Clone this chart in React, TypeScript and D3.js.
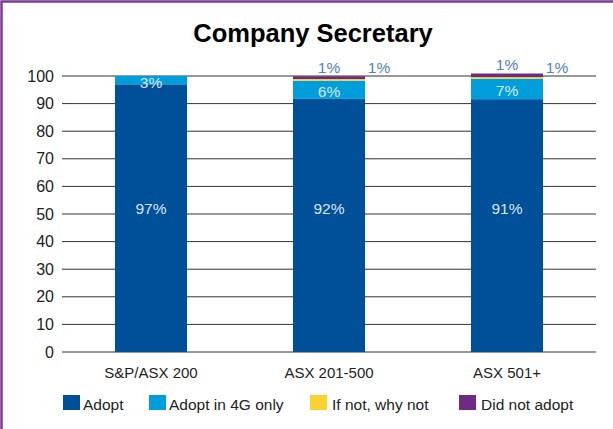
import * as d3 from 'd3';

const W = 613, H = 429;
const M = { top: 76, right: 17, bottom: 77, left: 62 };

const CATEGORIES = ['S&P/ASX 200', 'ASX 201-500', 'ASX 501+'];
const SERIES_NAMES = ['Adopt', 'Adopt in 4G only', 'If not, why not', 'Did not adopt'];
const COLORS = ['#004f99', '#009edb', '#fcd131', '#6e2a84'];

// segment values (the printed labels are rounded differently)
const ADOPT = [97, 91.7, 91.6];
const ADOPT_4G = [3, 6.6, 7.4];
const IF_NOT = [0, 0.6, 0.6];
const DID_NOT = [0, 1.0, 1.3];

const ADOPT_LABELS = ['97%', '92%', '91%'];
const ADOPT_4G_LABELS = ['3%', '6%', '7%'];
const IF_NOT_LABELS = ['', '1%', '1%'];
const DID_NOT_LABELS = ['', '1%', '1%'];

const Y_TICKS = [0, 10, 20, 30, 40, 50, 60, 70, 80, 90, 100];

const FONT = '"Liberation Sans", Arial, sans-serif';

export default function App() {
  const x = d3.scaleBand<string>()
    .domain(CATEGORIES)
    .range([M.left, W - M.right])
    .paddingInner(0.595)
    .paddingOuter(0.2975);
  const y = d3.scaleLinear().domain([0, 100]).range([H - M.bottom, M.top]);

  const rows = CATEGORIES.map((c, i) => ({
    cat: c,
    'Adopt': ADOPT[i],
    'Adopt in 4G only': ADOPT_4G[i],
    'If not, why not': IF_NOT[i],
    'Did not adopt': DID_NOT[i],
  }));
  const stacked = d3.stack<any>().keys(SERIES_NAMES)(rows);

  const bw = x.bandwidth();

  // legend swatch positions
  const legendX = [63, 149, 310, 459];

  return (
    <svg width={W} height={H} viewBox={`0 0 ${W} ${H}`}
      style={{ position: 'absolute', left: 0, top: 0, background: '#fff', fontFamily: FONT }}>
      {/* frame (cropped: only left and top edges visible) */}
      <rect x={1.5} y={1.5} width={W + 20} height={H + 20} fill="none" stroke="#7b3a93" strokeWidth={2.5} />

      <text x={313} y={42} textAnchor="middle" fontSize={25.5} fontWeight="bold" fill="#000">Company Secretary</text>

      {/* grid lines */}
      {Y_TICKS.map(t => (
        <g key={t}>
          <line x1={M.left} x2={W - M.right} y1={y(t)} y2={y(t)} stroke="#333" strokeWidth={1} />
          <text x={54} y={y(t)} dy="0.35em" textAnchor="end" fontSize={16} fill="#222">{t}</text>
        </g>
      ))}

      {/* bars */}
      {stacked.map((s, si) => s.map((d, i) => (
        <rect key={si + '-' + i}
          x={x(CATEGORIES[i])} width={bw}
          y={y(d[1])} height={Math.max(0, y(d[0]) - y(d[1]))}
          fill={COLORS[si]} />
      )))}

      {/* labels inside bars */}
      {CATEGORIES.map((c, i) => (
        <g key={'lab-' + c} fontSize={15.5} textAnchor="middle" fill="#dbe5f1">
          <text x={x(c)! + bw / 2} y={y(52)} dy="0.35em">{ADOPT_LABELS[i]}</text>
          <text x={x(c)! + bw / 2} y={(y(stacked[1][i][0]) + y(stacked[1][i][1])) / 2 + 2} dy="0.35em">{ADOPT_4G_LABELS[i]}</text>
        </g>
      ))}

      {/* small segment labels above / beside bars */}
      {CATEGORIES.map((c, i) => (
        <g key={'top-' + c} fontSize={15.5} fill="#4f81bd">
          {IF_NOT_LABELS[i] && (
            <text x={x(c)! + bw / 2} y={y(stacked[3][i][1]) - 9} dy="0.35em" textAnchor="middle">{IF_NOT_LABELS[i]}</text>
          )}
          {DID_NOT_LABELS[i] && (
            <text x={x(c)! + bw + 14} y={y(100) - 8} dy="0.35em" textAnchor="middle">{DID_NOT_LABELS[i]}</text>
          )}
        </g>
      ))}

      {/* category labels */}
      {CATEGORIES.map(c => (
        <text key={'cat-' + c} x={x(c)! + bw / 2} y={H - M.bottom + 26} textAnchor="middle" fontSize={15} fill="#222">{c}</text>
      ))}

      {/* legend */}
      {SERIES_NAMES.map((n, i) => (
        <g key={'leg-' + n} transform={`translate(${legendX[i]},395)`}>
          <rect x={0} y={0} width={17} height={15} fill={COLORS[i]} />
          <text x={i >= 2 ? 22 : 20} y={15} fontSize={15.5} fill="#222">{n}</text>
        </g>
      ))}
    </svg>
  );
}
